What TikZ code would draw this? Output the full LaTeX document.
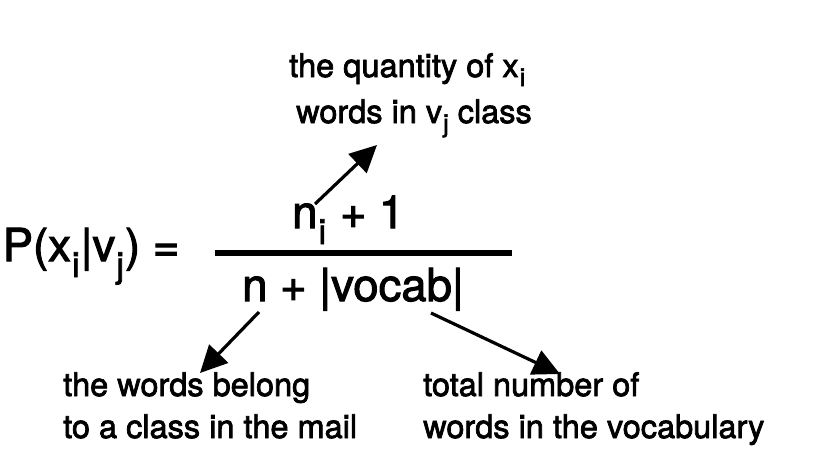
\documentclass[tikz,border=0pt]{standalone}
\usepackage{fontspec}
\setmainfont{TeX Gyre Heros}[FakeBold=2.2]
\usetikzlibrary{arrows.meta}
\newcommand{\bigf}{\fontsize{45.5}{45.5}\selectfont}
\newcommand{\lblf}{\fontsize{32.5}{32.5}\selectfont}
\newcommand{\fsub}[1]{\hspace{1pt}\raisebox{-16pt}{\fontsize{35}{35}\selectfont #1}\hspace{1pt}}
\newcommand{\lsub}[1]{\hspace{1pt}\raisebox{-9pt}{\fontsize{25}{25}\selectfont #1}}
\tikzset{
  formula/.style={anchor=base west, inner sep=0pt, font=\bigf},
  lbl/.style={anchor=base west, inner sep=0pt, font=\lblf},
  pointer/.style={line width=3.2pt, -{Triangle[length=27pt,width=26pt]}},
  fracbar/.style={line width=5.5pt}
}
\begin{document}
\begin{tikzpicture}[x=1pt,y=-1pt]
\useasboundingbox[fill=white] (0,0) rectangle (816,456);
% formula
\node[formula] (lhs) at (2.5,261) {P(x\fsub{i}|v\fsub{j}) =};
\node[formula] (num) at (292,228) {n\fsub{i} + 1};
\node[formula] (den) at (242,301) {n + |vocab|};
\coordinate (barL) at (215,253);
\coordinate (barR) at (512,253);
\draw[fracbar] (barL) -- (barR);
% labels
\node[lbl] (top1) at (289,77) {the quantity of x\lsub{i}};
\node[lbl] (top2) at (296,123) {words in v\lsub{j} class};
\node[lbl] (bl1) at (63,396) {the words belong};
\node[lbl] (bl2) at (63,438) {to a class in the mail};
\node[lbl] (br1) at (423,396) {total number of};
\node[lbl] (br2) at (423,438) {words in the vocabulary};
% arrows
\coordinate (a1s) at (315,204);
\coordinate (a1e) at (377,145);
\coordinate (a2s) at (259,312);
\coordinate (a2e) at (200,373);
\coordinate (a3s) at (431,313);
\coordinate (a3e) at (560,374);
\draw[pointer] (a1s) -- (a1e);
\draw[pointer] (a2s) -- (a2e);
\draw[pointer] (a3s) -- (a3e);
\end{tikzpicture}
\end{document}
